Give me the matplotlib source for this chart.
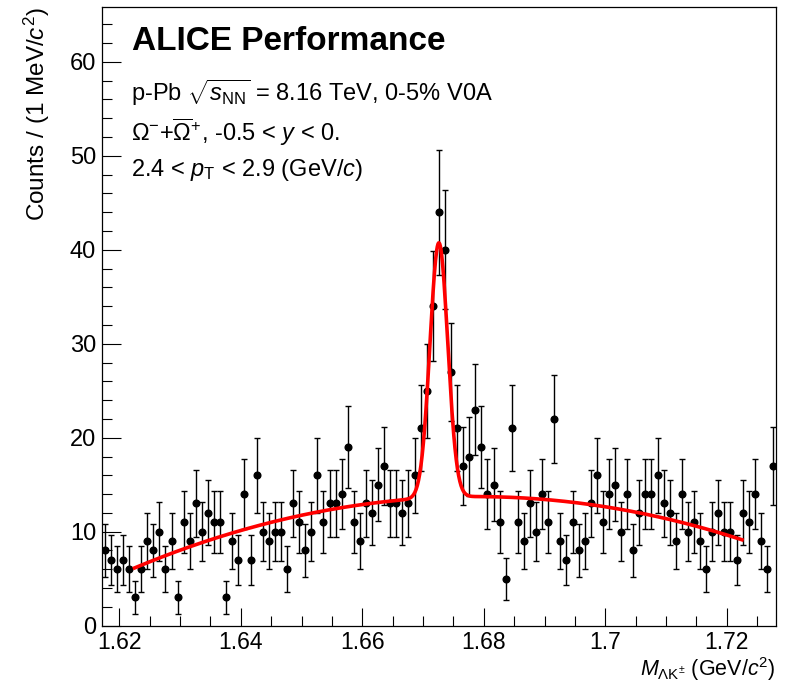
import numpy as np
import matplotlib
matplotlib.use("Agg")
import matplotlib.pyplot as plt
from matplotlib.ticker import MultipleLocator, FuncFormatter

plt.rcParams['font.family'] = ['Liberation Sans', 'DejaVu Sans']
plt.rcParams['mathtext.fontset'] = 'custom'
plt.rcParams['mathtext.rm'] = 'Liberation Sans'
plt.rcParams['mathtext.it'] = 'Liberation Sans:italic'
plt.rcParams['mathtext.bf'] = 'Liberation Sans:bold'

# ---- data: histogram of invariant mass, 1 MeV bins ----
bin_low = 1.6171
bin_width = 0.001
counts = [8, 7, 6, 7, 6, 3, 6, 9, 8, 10, 6, 9, 3, 11, 9, 13, 10, 12, 11, 11,
          3, 9, 7, 14, 7, 16, 10, 9, 10, 10, 6, 13, 11, 8, 10, 16, 11, 13, 13, 14,
          19, 11, 9, 13, 12, 15, 17, 13, 13, 12, 13, 16, 21, 25, 34, 44, 40, 27, 21, 17,
          18, 23, 19, 14, 15, 11, 5, 21, 11, 9, 13, 10, 14, 11, 22, 9, 7, 11, 8, 9,
          13, 16, 11, 14, 15, 10, 14, 8, 12, 14, 14, 16, 13, 12, 9, 14, 10, 11, 9, 6,
          10, 12, 10, 10, 7, 12, 11, 14, 9, 6, 17]

# ---- fit: gaussian + pol2 background ----
fit_range = (1.6225, 1.7225)
gaus_amp = 27.1
gaus_mean = 1.6726
gaus_sigma = 0.00146
bkg_ref = 1.67
bkg_coef = [13.55, 0.42, -0.24]   # in units of t = (m - bkg_ref)*100

xlim = (bin_low, bin_low + len(counts) * bin_width)
ylim = (0, 65.8)

counts = np.array(counts, dtype=float)
centers = bin_low + bin_width * (np.arange(len(counts)) + 0.5)
errors = np.sqrt(counts)

fig = plt.figure(figsize=(7.86, 6.82), dpi=100)
ax = fig.add_axes([0.1294, 0.0826, 0.8579, 0.9067])

ax.errorbar(centers, counts, yerr=errors, fmt='o', color='black', ms=4.8,
            elinewidth=1.0, capsize=2.2, capthick=1.0, zorder=3)

mfit = np.linspace(fit_range[0], fit_range[1], 1000)
t = (mfit - bkg_ref) * 100
bkg = bkg_coef[0] + bkg_coef[1] * t + bkg_coef[2] * t ** 2
fit = bkg + gaus_amp * np.exp(-0.5 * ((mfit - gaus_mean) / gaus_sigma) ** 2)
ax.plot(mfit, fit, color='#ff0000', lw=2.6, zorder=4)

ax.set_xlim(*xlim)
ax.set_ylim(*ylim)
ax.xaxis.set_major_locator(MultipleLocator(0.02))
ax.xaxis.set_minor_locator(MultipleLocator(0.005))
ax.yaxis.set_major_locator(MultipleLocator(10))
ax.yaxis.set_minor_locator(MultipleLocator(2))
ax.xaxis.set_major_formatter(FuncFormatter(lambda v, p: '%g' % round(v, 4)))
ax.tick_params(axis='both', which='both', direction='in', top=False, right=False,
               labelsize=17, width=0.8, color='black')
ax.tick_params(axis='x', which='major', length=13, pad=3.5, labelsize=16.5)
ax.tick_params(axis='x', which='minor', length=7)
ax.tick_params(axis='y', which='major', length=14, pad=4)
ax.tick_params(axis='y', which='minor', length=7)
for s in ax.spines.values():
    s.set_linewidth(0.9)

ax.set_xlabel(r"$M_{\Lambda\mathrm{K}^{\pm}}$ (GeV/$c^{2}$)", fontsize=15.5,
              loc='right')
ax.xaxis.set_label_coords(1.0, -0.047)
ax.set_ylabel(r"Counts / (1 MeV/$c^{2}$)", fontsize=17.5, loc='top')
ax.yaxis.set_label_coords(-0.074, 1.0)

W, H = 786, 682
fig.text(132 / W, 1 - 49.5 / H, "ALICE Performance", fontsize=24,
         fontweight='bold', va='baseline', ha='left')
fig.text(131 / W, 1 - 101.5 / H, r"p-Pb $\sqrt{s_{\mathrm{NN}}}$ = 8.16 TeV, 0-5% V0A",
         fontsize=17, va='baseline', ha='left')
fig.text(131 / W, 1 - 141.5 / H, r"$\Omega^{-}$+$\overline{\Omega}^{+}$, -0.5 < $y$ < 0.",
         fontsize=17, va='baseline', ha='left')
fig.text(131 / W, 1 - 176 / H, r"2.4 < $p_{\mathrm{T}}$ < 2.9 (GeV/$c$)",
         fontsize=17, va='baseline', ha='left')

fig.savefig("out.png", dpi=100, facecolor='white')
